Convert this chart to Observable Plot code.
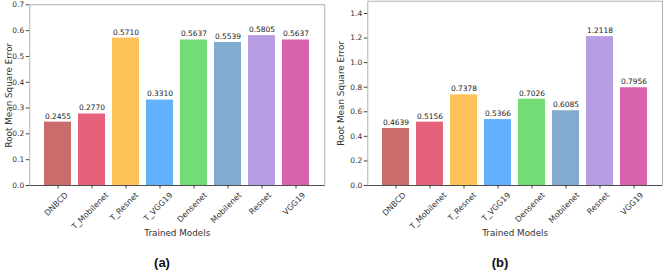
<!DOCTYPE html>
<html>
<head>
<meta charset="utf-8">
<script src="https://cdn.jsdelivr.net/npm/d3@7"></script>
<script src="https://cdn.jsdelivr.net/npm/@observablehq/plot@0.6"></script>
<style>
  html, body { margin: 0; padding: 0; background: #fff; }
  #wrap { position: relative; width: 663px; height: 271px; overflow: hidden; font-family: "DejaVu Sans", sans-serif; }
  .panel { position: absolute; top: 0; }
  .tag { position: absolute; font-family: "Liberation Sans", Arial, sans-serif; font-weight: bold; font-size: 13px; color: #111; transform: translate(-50%, -50%); }
</style>
</head>
<body>
<div id="wrap"></div>
<script>
const models = ["DNBCD", "T_Mobilenet", "T_Resnet", "T_VGG19", "Densenet", "Mobilenet", "Resnet", "VGG19"];
const rmseA = [0.2455, 0.2770, 0.5710, 0.3310, 0.5637, 0.5539, 0.5805, 0.5637];
const rmseB = [0.4639, 0.5156, 0.7378, 0.5366, 0.7026, 0.6085, 1.2118, 0.7956];
const colors = ["#c86464", "#e55a73", "#ffbf50", "#5badfd", "#6dda6d", "#7aa6cc", "#b399e0", "#d65aa8"];
const ticksA = [0, 0.1, 0.2, 0.3, 0.4, 0.5, 0.6, 0.7];
const ticksB = [0, 0.2, 0.4, 0.6, 0.8, 1.0, 1.2, 1.4];
const xLabel = "Trained Models";
const yLabel = "Root Mean Square Error";
const tags = ["(a)", "(b)"];

const XFS = 8;
const ctx = document.createElement("canvas").getContext("2d");
ctx.font = `${XFS}px "DejaVu Sans"`;
const measure = s => ctx.measureText(s).width;

function panel({values, yMax, yTicks, width, ml, mr, mt, ylabDx}) {
  const data = models.map((m, i) => ({model: m, value: values[i], color: colors[i]}));
  const H = 271, frameBottom = 185;
  const tickLabels = models.map(m => {
    const h = (measure(m) + 0.73 * XFS) * Math.SQRT1_2;
    return Plot.text([m], {x: d => d, text: d => d, frameAnchor: "bottom", rotate: -45, textAnchor: "middle",
      dy: 8 + h / 2, fontSize: XFS, fill: "#333"});
  });
  return Plot.plot({
    width, height: H,
    marginLeft: ml, marginRight: mr, marginTop: mt, marginBottom: H - frameBottom,
    style: {fontFamily: "DejaVu Sans, sans-serif", fontSize: "7.5px", color: "#333", background: "white"},
    x: {domain: models, paddingInner: 0.2, paddingOuter: 0.4, align: 0.5, label: null},
    y: {domain: [0, yMax], label: null},
    marks: [
      Plot.barY(data, {x: "model", y: "value", fill: "color", fillOpacity: 0.95}),
      Plot.text(data, {x: "model", y: "value", text: d => d3.format(".4f")(d.value), dy: -6, fill: "#222", fontSize: 7.5}),
      Plot.frame({stroke: "#aaa", strokeWidth: 0.9}),
      Plot.ruleX([0], {frameAnchor: "left", stroke: "#444", strokeWidth: 0.9}),
      Plot.ruleY([0], {stroke: "#444", strokeWidth: 0.9}),
      Plot.axisY({ticks: yTicks, tickFormat: d3.format(".1f"), tickSize: 3.5, tickPadding: 2, label: null, stroke: "#444", fill: "#333"}),
      Plot.axisX({tickSize: 3.5, tickFormat: () => "", label: null, stroke: "#444"}),
      ...tickLabels,
      Plot.text([xLabel], {frameAnchor: "bottom", dy: 50, fontSize: 8.8, fill: "#333"}),
      Plot.text([yLabel], {frameAnchor: "left", rotate: -90, textAnchor: "middle", dx: ylabDx, fontSize: 8.8, fill: "#333"})
    ]
  });
}

const wrap = document.getElementById("wrap");
const a = panel({values: rmseA, yMax: 0.7, yTicks: ticksA, width: 331, ml: 29.3, mr: 6.7, mt: 4.3, ylabDx: -21});
a.classList.add("panel"); a.style.left = "0px";
const b = panel({values: rmseB, yMax: 1.5, yTicks: ticksB, width: 332, ml: 36.3, mr: 1, mt: 0.7, ylabDx: -27});
b.classList.add("panel"); b.style.left = "331px";
wrap.appendChild(a); wrap.appendChild(b);

[[162, 262], [500, 262]].forEach(([x, y], i) => {
  const t = document.createElement("div");
  t.className = "tag"; t.textContent = tags[i];
  t.style.left = x + "px"; t.style.top = y + "px";
  wrap.appendChild(t);
});
</script>
</body>
</html>
